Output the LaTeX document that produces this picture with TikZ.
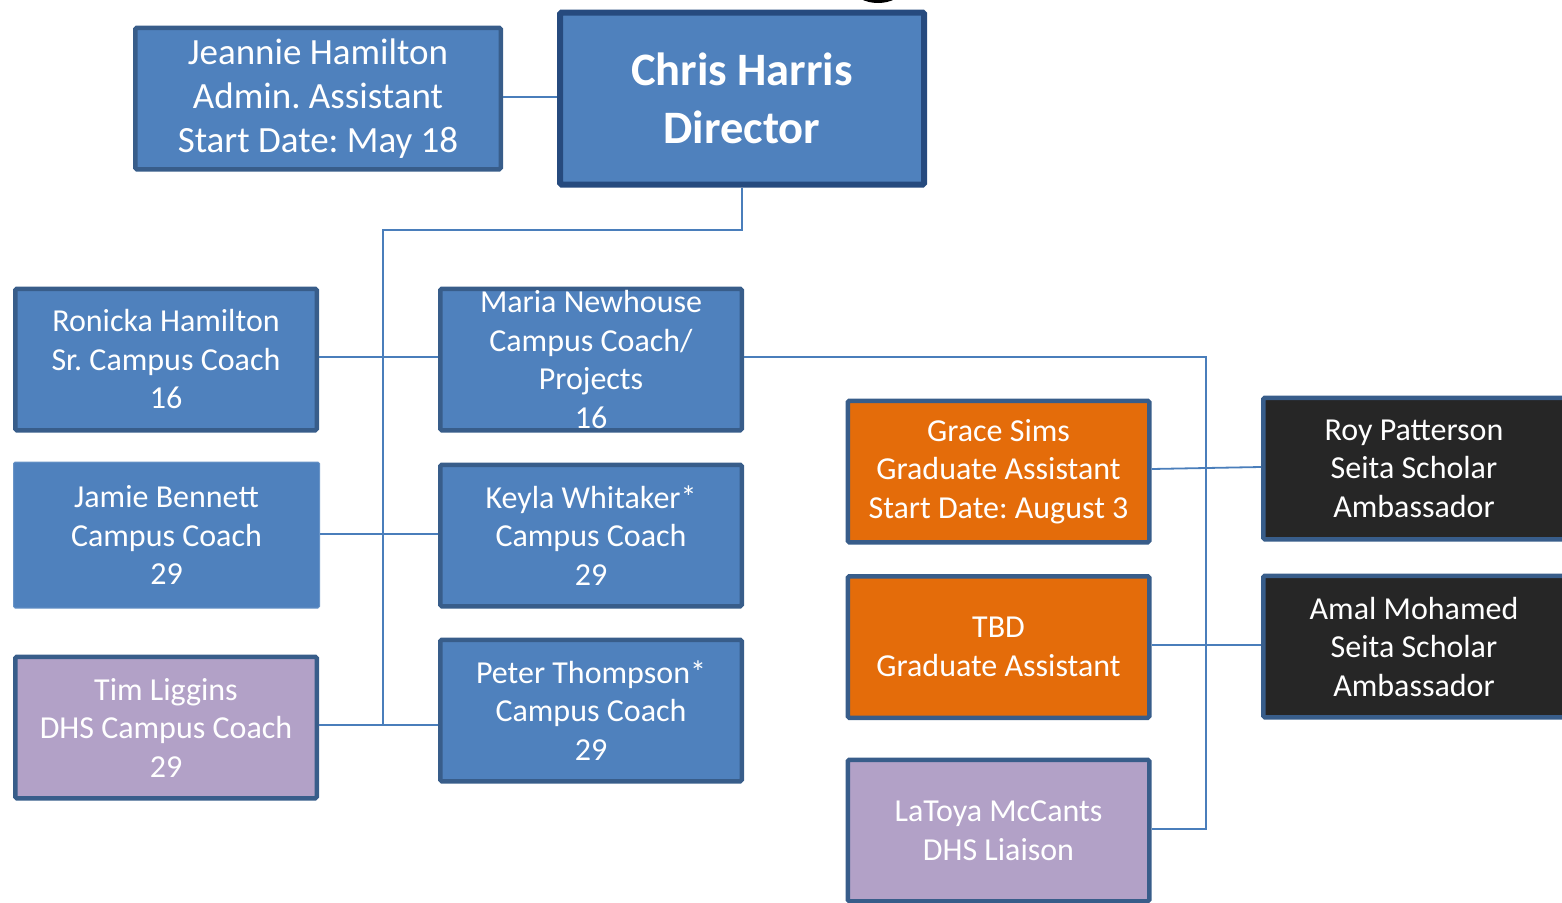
\documentclass[tikz,border=0pt]{standalone}
\usepackage{fontspec}
\setmainfont{Carlito}
\frenchspacing
\definecolor{fillblue}{HTML}{4F81BD}
\definecolor{edgeblue}{HTML}{385D8A}
\definecolor{edgedark}{HTML}{264A7E}
\definecolor{lilac}{HTML}{B2A1C7}
\definecolor{orangefill}{HTML}{E46C0A}
\definecolor{darkfill}{HTML}{262626}
\definecolor{linkblue}{HTML}{4A7EBB}
\tikzset{
  orgbox/.style={draw=edgeblue, line width=4.5pt, rounded corners=1.5pt, text=white, align=center,
    inner sep=0pt, minimum width=301.5pt, minimum height=141.5pt,
    font=\fontsize{32}{38.5}\selectfont},
  bluebox/.style={orgbox, fill=fillblue},
  lilacbox/.style={orgbox, fill=lilac},
  orangebox/.style={orgbox, fill=orangefill},
  darkbox/.style={orgbox, fill=darkfill},
  link/.style={draw=linkblue, line width=1.8pt}
}
\begin{document}
\begin{tikzpicture}[x=1pt,y=-1pt]
\useasboundingbox (0,0) rectangle (1562,902);
\clip (0,0) rectangle (1562,902);
% black shape at the top edge
\fill[black] (878,-12) ellipse (25 and 15);
% nodes
\node[bluebox, minimum width=365.5pt, font=\fontsize{37}{44}\selectfont] (jeannie) at (318,98.5)
  {Jeannie Hamilton\\Admin. Assistant\\Start Date: May 18};
\node[bluebox, draw=edgedark, line width=6pt, minimum width=364pt, minimum height=172pt,
  font=\fontsize{46.5}{58}\selectfont\bfseries] (chris) at (742,98.5) {Chris Harris\\Director};
\node[bluebox] (ronicka) at (166,359.5) {Ronicka Hamilton\\Sr. Campus Coach\\16};
\node[bluebox] (maria) at (591,359.5) {Maria Newhouse\\Campus Coach/\\Projects\\16};
\node[bluebox, draw=fillblue!85!white, line width=1pt, minimum width=306pt, minimum height=146pt] (jamie) at (166.5,535) {Jamie Bennett\\Campus Coach\\29};
\node[bluebox] (keyla) at (591,535.5) {Keyla Whitaker*\\Campus Coach\\29};
\node[lilacbox] (tim) at (166,727.5) {Tim Liggins\\DHS Campus Coach\\29};
\node[bluebox] (peter) at (591,710.5) {Peter Thompson*\\Campus Coach\\29};
\node[orangebox] (grace) at (998.5,471.5) {Grace Sims\\Graduate Assistant\\Start Date: August 3};
\node[orangebox] (tbd) at (998.5,647) {TBD\\Graduate Assistant};
\node[lilacbox] (latoya) at (998.5,830.5) {LaToya McCants\\DHS Liaison};
\node[darkbox] (roy) at (1414,468.5) {Roy Patterson\\Seita Scholar\\Ambassador};
\node[darkbox] (amal) at (1414,646.5) {Amal Mohamed\\Seita Scholar\\Ambassador};
% spine coordinates
\coordinate (ltop) at (383,230);
\coordinate (lbot) at (383,725);
\coordinate (rtop) at (1206,357);
\coordinate (rbot) at (1206,829);
% connectors
\draw[link] (jeannie.east |- 0,97) -- (chris.west |- 0,97);
\draw[link] (chris.south) |- (ltop) -- (lbot);
\draw[link] (ronicka.east |- rtop) -- (maria.west |- rtop);
\draw[link] (jamie.east |- 0,534) -- (keyla.west |- 0,534);
\draw[link] (tim.east |- lbot) -- (peter.west |- lbot);
\draw[link] (maria.east |- rtop) -- (rtop) -- (rbot) -- (latoya.east |- rbot);
\draw[link] (grace.east |- 0,469) -- (roy.west |- 0,467);
\draw[link] (tbd.east |- 0,645) -- (amal.west |- 0,645);
\end{tikzpicture}
\end{document}
